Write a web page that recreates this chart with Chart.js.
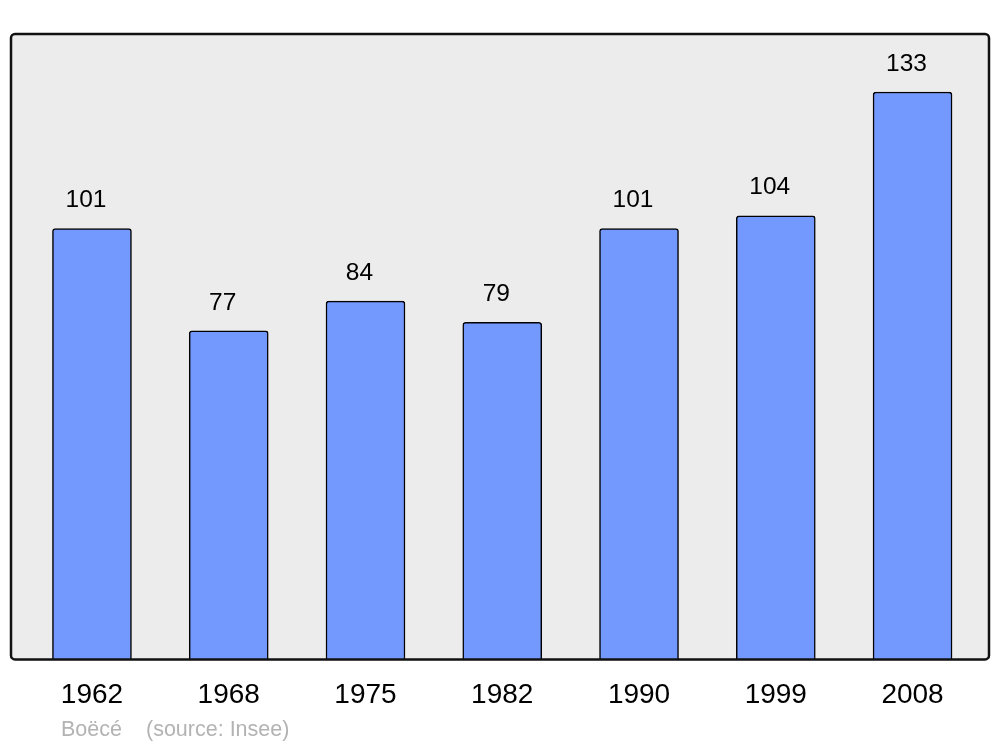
<!DOCTYPE html>
<html>
<head>
<meta charset="utf-8">
<script src="https://cdn.jsdelivr.net/npm/chart.js@4/dist/chart.umd.min.js"></script>
<style>
  html, body { margin: 0; padding: 0; background: #fff; }
  #wrap { width: 1000px; height: 747px; position: relative; }
</style>
</head>
<body>
<div id="wrap"><canvas id="chart"></canvas></div>
<script>
const years = ['1962', '1968', '1975', '1982', '1990', '1999', '2008']
const population = [101, 77, 84, 79, 101, 104, 133]
const footerText = ['Boëcé', '(source: Insee)']

const FONT = '"Liberation Sans", Arial, sans-serif'

// gray rounded panel behind the bars, black frame over them
const panel = {
  id: 'panel',
  beforeDatasetsDraw(chart) {
    const { ctx, chartArea: a } = chart
    ctx.save()
    ctx.beginPath()
    ctx.roundRect(a.left, a.top, a.right - a.left, a.bottom - a.top, 4)
    ctx.fillStyle = '#ececec'
    ctx.fill()
    ctx.restore()
  },
  afterDatasetsDraw(chart) {
    const { ctx, chartArea: a } = chart
    ctx.save()
    ctx.beginPath()
    ctx.roundRect(a.left, a.top, a.right - a.left, a.bottom - a.top, 4)
    ctx.lineWidth = 2.5
    ctx.strokeStyle = '#111'
    ctx.stroke()

    // value labels
    ctx.font = '24.5px ' + FONT
    ctx.fillStyle = '#000'
    ctx.textAlign = 'center'
    ctx.textBaseline = 'middle'
    const meta = chart.getDatasetMeta(0)
    meta.data.forEach((bar, i) => {
      ctx.fillText(String(population[i]), bar.x - 6, bar.y - 28)
    })

    // footer
    ctx.font = '21.5px ' + FONT
    ctx.fillStyle = '#b3b3b3'
    ctx.textAlign = 'left'
    ctx.fillText(footerText[0], 61, 730)
    ctx.fillText(footerText[1], 146, 730)
    ctx.restore()
  }
}

new Chart(document.getElementById('chart'), {
  type: 'bar',
  data: {
    datasets: [{
      data: population.map((v, i) => ({ x: i, y: v })),
      backgroundColor: '#7399ff',
      borderColor: '#000',
      borderWidth: 1.5,
      borderSkipped: 'bottom',
      borderRadius: { topLeft: 3, topRight: 3, bottomLeft: 0, bottomRight: 0 },
      barThickness: 79
    }]
  },
  options: {
    responsive: true,
    maintainAspectRatio: false,
    animation: false,
    layout: { padding: { left: 11, right: 11, top: 34, bottom: 16 } },
    plugins: {
      legend: { display: false },
      tooltip: { enabled: false }
    },
    scales: {
      x: {
        type: 'linear',
        offset: false,
        min: -0.592,
        max: 6.559,
        grid: { display: false, drawTicks: false },
        border: { display: false },
        ticks: {
          stepSize: 1,
          includeBounds: false,
          autoSkip: false,
          maxRotation: 0,
          padding: 19,
          color: '#000',
          font: { size: 28, family: FONT },
          callback: (v) => Number.isInteger(v) ? years[v] : ''
        }
      },
      y: {
        display: false,
        min: 0,
        max: 146.6
      }
    }
  },
  plugins: [panel]
})
</script>
</body>
</html>
